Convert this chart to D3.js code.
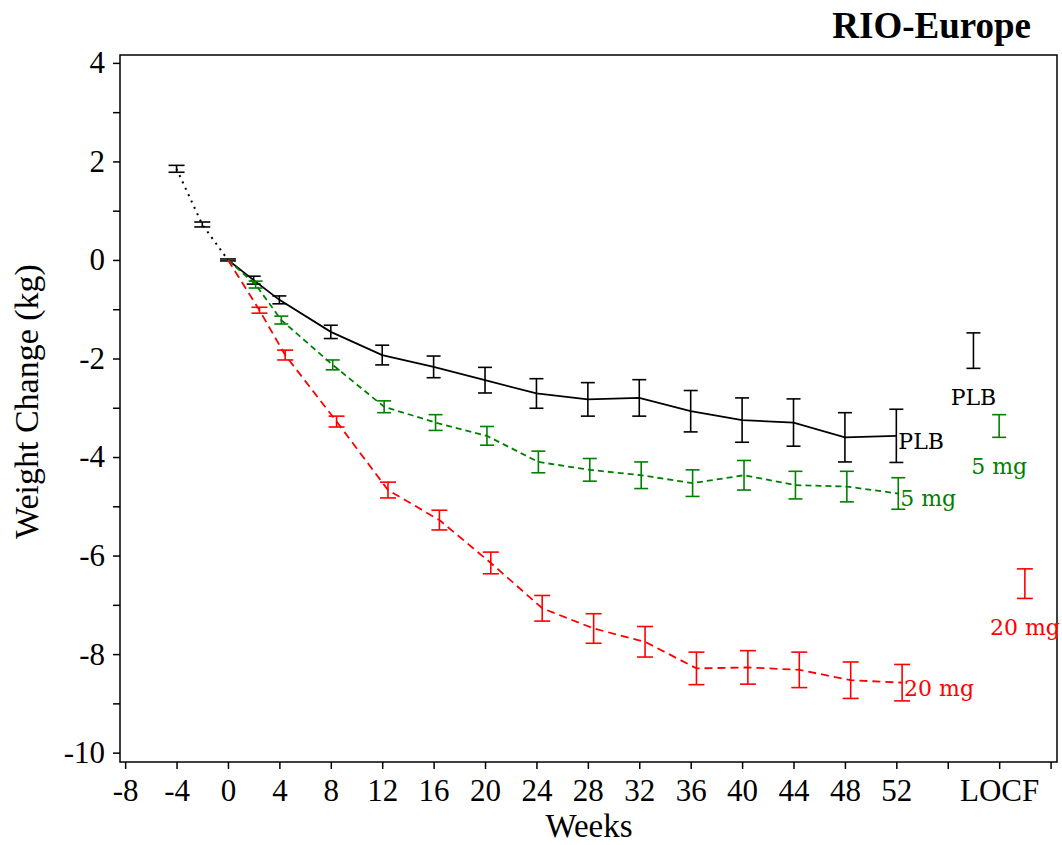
<!DOCTYPE html>
<html>
<head>
<meta charset="utf-8">
<script src="https://cdn.jsdelivr.net/npm/d3@7"></script>
<style>
  html, body { margin: 0; padding: 0; background: #fff; }
  svg { display: block; }
</style>
</head>
<body>
<svg id="chart" width="1062" height="845"></svg>
<script>
// ---- data ----
const weeks = [0, 2, 4, 8, 12, 16, 20, 24, 28, 32, 36, 40, 44, 48, 52];
const plbMean  = [0, -0.41, -0.81, -1.46, -1.93, -2.17, -2.44, -2.71, -2.83, -2.80, -3.07, -3.25, -3.30, -3.60, -3.57];
const plbErr   = [0.02, 0.08, 0.08, 0.135, 0.20, 0.22, 0.26, 0.30, 0.34, 0.37, 0.42, 0.45, 0.48, 0.50, 0.54];
const mg5Mean  = [0, -0.50, -1.22, -2.13, -2.98, -3.30, -3.57, -4.10, -4.26, -4.37, -4.53, -4.37, -4.57, -4.60, -4.74];
const mg5Err   = [0.02, 0.07, 0.08, 0.10, 0.12, 0.16, 0.19, 0.22, 0.23, 0.27, 0.27, 0.30, 0.28, 0.31, 0.32];
const mg20Mean = [0, -1.02, -1.93, -3.28, -4.67, -5.28, -6.15, -7.07, -7.48, -7.75, -8.29, -8.27, -8.32, -8.53, -8.58];
const mg20Err  = [0.02, 0.06, 0.10, 0.11, 0.16, 0.20, 0.22, 0.26, 0.30, 0.31, 0.33, 0.34, 0.36, 0.37, 0.37];

const runinWeeks = [-4, -2, 0];
const runinMean  = [1.85, 0.72, 0];
const runinErr   = [0.07, 0.05, 0.02];

const locfMean = [-1.84, -3.37, -6.57];   // PLB, 5 mg, 20 mg
const locfErr  = [0.36, 0.23, 0.30];

const seriesNames = ["PLB", "5 mg", "20 mg"];
const xTickValues = [-8, -4, 0, 4, 8, 12, 16, 20, 24, 28, 32, 36, 40, 44, 48, 52, 56, 60, 64];
const xTickLabels = ["-8", "-4", "0", "4", "8", "12", "16", "20", "24", "28", "32", "36", "40", "44", "48", "52", "", "LOCF", ""];
const yTickValues = [-10, -9, -8, -7, -6, -5, -4, -3, -2, -1, 0, 1, 2, 3, 4];
const locfWeek = 60;

// ---- layout / style ----
const series = [
  { name: seriesNames[0], mean: plbMean,  err: plbErr,  color: "#000000", dash: null,  off: 0,    cap: 14, locfOff: -2 },
  { name: seriesNames[1], mean: mg5Mean,  err: mg5Err,  color: "#008000", dash: "6,4", off: 0.15, cap: 14, locfOff: 0 },
  { name: seriesNames[2], mean: mg20Mean, err: mg20Err, color: "#ff0000", dash: "8,5", off: 0.45, cap: 16, locfOff: 2 }
];

const svg = d3.select("#chart");
const L = 120, R = 1057, T = 55, B = 762;
const x = d3.scaleLinear().domain([-8.4, 64.5]).range([L, R]);
const y = d3.scaleLinear().domain([-10.19, 4.16]).range([B, T]);
const serif = "'Liberation Serif', 'Times New Roman', serif";
const labFont = "'DejaVu Serif', serif";

// frame
svg.append("rect").attr("x", L).attr("y", T).attr("width", R - L).attr("height", B - T)
  .attr("fill", "none").attr("stroke", "#000").attr("stroke-width", 1.5);

// x axis
const xAxis = d3.axisBottom(x).tickValues(xTickValues)
  .tickFormat((d, i) => xTickLabels[i]).tickSize(7).tickSizeOuter(0).tickPadding(10);
const gx = svg.append("g").attr("transform", `translate(0,${B})`).call(xAxis);
gx.select(".domain").remove();
gx.selectAll("line").attr("stroke", "#000").attr("stroke-width", 1.5);
gx.selectAll("text").attr("font-family", serif).attr("font-size", 31).attr("fill", "#000");

// y axis
const yAxis = d3.axisLeft(y).tickValues(yTickValues)
  .tickFormat(d => (d % 2 === 0 ? String(d) : "")).tickSize(7).tickSizeOuter(0).tickPadding(8);
const gy = svg.append("g").attr("transform", `translate(${L},0)`).call(yAxis);
gy.select(".domain").remove();
gy.selectAll("line").attr("stroke", "#000").attr("stroke-width", 1.5);
gy.selectAll("text").attr("font-family", serif).attr("font-size", 31).attr("fill", "#000");

// axis titles
svg.append("text").attr("x", 589).attr("y", 837).attr("text-anchor", "middle")
  .attr("font-family", serif).attr("font-size", 33).text("Weeks");
svg.append("text").attr("transform", `translate(38,${(T + B) / 2 - 7}) rotate(-90)`)
  .attr("text-anchor", "middle").attr("font-family", serif).attr("font-size", 34).text("Weight Change (kg)");

// title
svg.append("text").attr("x", 1031).attr("y", 38).attr("text-anchor", "end")
  .attr("font-family", serif).attr("font-weight", "bold").attr("font-size", 37).text("RIO-Europe");

function errorBar(g, cx, m, e, cap, color) {
  g.append("line").attr("x1", cx).attr("x2", cx).attr("y1", y(m + e)).attr("y2", y(m - e))
    .attr("stroke", color).attr("stroke-width", 1.6);
  [m + e, m - e].forEach(v => {
    g.append("line").attr("x1", cx - cap / 2).attr("x2", cx + cap / 2).attr("y1", y(v)).attr("y2", y(v))
      .attr("stroke", color).attr("stroke-width", 1.6);
  });
}

// run-in (dotted)
const runin = runinWeeks.map((w, i) => ({ w, m: runinMean[i], e: runinErr[i] }));
const gRun = svg.append("g");
gRun.append("path").datum(runin)
  .attr("d", d3.line().x(d => x(d.w)).y(d => y(d.m)))
  .attr("fill", "none").attr("stroke", "#000").attr("stroke-width", 2).attr("stroke-dasharray", "2,5");
runin.forEach(d => errorBar(gRun, x(d.w), d.m, d.e, 16, "#000"));

// series
series.forEach(s => {
  const g = svg.append("g");
  const pts = weeks.map((w, i) => ({ w: w + s.off, m: s.mean[i], e: s.err[i] }));
  pts[0].w = 0;
  const p = g.append("path").datum(pts)
    .attr("d", d3.line().x(d => x(d.w)).y(d => y(d.m)))
    .attr("fill", "none").attr("stroke", s.color).attr("stroke-width", 1.8);
  if (s.dash) p.attr("stroke-dasharray", s.dash);
  pts.slice(1).forEach(d => errorBar(g, x(d.w), d.m, d.e, s.cap, s.color));
  const last = pts[pts.length - 1];
  g.append("text").attr("x", x(last.w) + 2).attr("y", y(last.m) + 13)
    .attr("font-family", labFont).attr("font-size", 22)
    .attr("fill", s.color).text(s.name);
});

// LOCF
series.forEach((s, i) => {
  const g = svg.append("g");
  const cx = x(locfWeek + s.locfOff);
  errorBar(g, cx, locfMean[i], locfErr[i], s.cap, s.color);
  g.append("text").attr("x", cx).attr("y", y(locfMean[i] - locfErr[i]) + 37).attr("text-anchor", "middle")
    .attr("font-family", labFont).attr("font-size", 22)
    .attr("fill", s.color).text(s.name);
});
</script>
</body>
</html>
